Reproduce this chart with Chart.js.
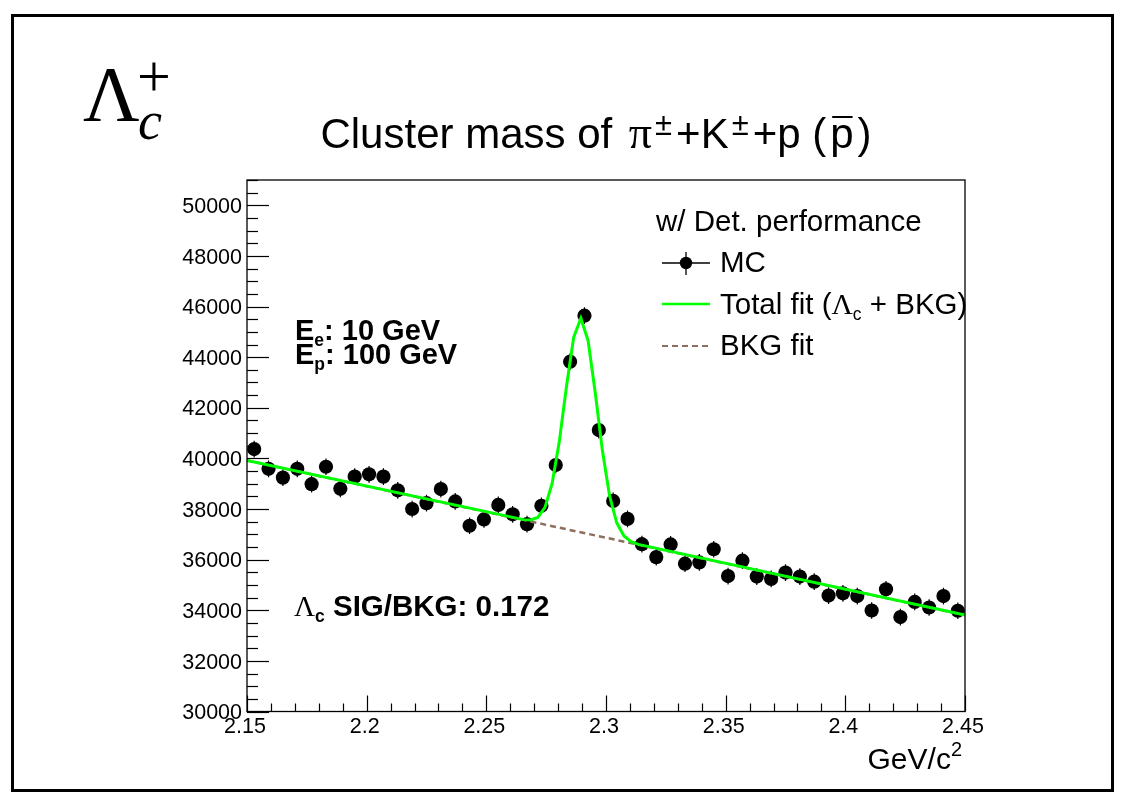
<!DOCTYPE html>
<html>
<head>
<meta charset="utf-8">
<title>Cluster mass of π±+K±+p</title>
<script src="https://cdn.jsdelivr.net/npm/chart.js@4.4.1/dist/chart.umd.min.js"></script>
<style>
  html, body { margin: 0; padding: 0; background: #fff; }
  #wrap { position: relative; width: 1121px; height: 799px; }
</style>
</head>
<body>
<div id="wrap"><canvas id="chart-mass" width="1121" height="799"></canvas></div>
<script>
// bin centres (GeV/c^2), 50 bins of 6 MeV
const massBins = [
  2.153, 2.159, 2.165, 2.171, 2.177, 2.183, 2.189, 2.195, 2.201, 2.207,
  2.213, 2.219, 2.225, 2.231, 2.237, 2.243, 2.249, 2.255, 2.261, 2.267,
  2.273, 2.279, 2.285, 2.291, 2.297, 2.303, 2.309, 2.315, 2.321, 2.327,
  2.333, 2.339, 2.345, 2.351, 2.357, 2.363, 2.369, 2.375, 2.381, 2.387,
  2.393, 2.399, 2.405, 2.411, 2.417, 2.423, 2.429, 2.435, 2.441, 2.447
];
const mcCounts = [
  40370, 39590, 39240, 39590, 38980, 39670, 38800, 39280, 39370, 39280,
  38740, 38000, 38230, 38790, 38300, 37340, 37590, 38160, 37790, 37400,
  38130, 39740, 43820, 45640, 41120, 38320, 37610, 36610, 36100, 36600,
  35840, 35890, 36410, 35350, 35960, 35330, 35240, 35490, 35330, 35130,
  34580, 34670, 34560, 33990, 34830, 33730, 34330, 34110, 34560, 33980
];
const binError = 330;

// fit curves (Lambda_c gaussian + linear background)
const totalFitX = [2.15, 2.2655, 2.2685, 2.2715, 2.2745, 2.2775, 2.2805, 2.2835, 2.2865, 2.2895,
  2.2925, 2.2955, 2.2985, 2.3015, 2.3045, 2.3075, 2.3105, 2.3135, 2.45];
const totalFitY = [39920, 37581, 37568, 37670, 38065, 39008, 40674, 42851, 44784, 45534,
  44662, 42607, 40308, 38520, 37454, 36937, 36712, 36603, 33810];
const bkgFitX = [2.15, 2.45];
const bkgFitY = [39920, 33810];

const xTicks = [2.15, 2.2, 2.25, 2.3, 2.35, 2.4, 2.45];
const xTickLabels = ['2.15', '2.2', '2.25', '2.3', '2.35', '2.4', '2.45'];
const yTicks = [30000, 32000, 34000, 36000, 38000, 40000, 42000, 44000, 46000, 48000, 50000];
const yTickLabels = ['30000', '32000', '34000', '36000', '38000', '40000', '42000', '44000', '46000', '48000', '50000'];

const SANS = '"Liberation Sans", Arial, Helvetica, sans-serif';
const SERIF = '"Liberation Serif", "Times New Roman", serif';
const GREEN = '#00ff00';
const BROWN = '#8d6f5f';

function zip(xs, ys) { return xs.map((x, i) => ({ x: x, y: ys[i] })); }

// draws a run of text pieces (font / vertical offset / overline / extra gap) starting at x
function drawRuns(ctx, x, y, runs, align) {
  let total = 0;
  runs.forEach(r => { ctx.font = r.font; r.w = ctx.measureText(r.t).width + (r.gap || 0); total += r.w; });
  let cx = align === 'center' ? x - total / 2 : (align === 'right' ? x - total : x);
  ctx.textAlign = 'left';
  ctx.textBaseline = 'alphabetic';
  runs.forEach(r => {
    ctx.font = r.font;
    ctx.fillText(r.t, cx, y + (r.dy || 0));
    if (r.bar) {
      ctx.beginPath();
      ctx.lineWidth = 2;
      ctx.moveTo(cx + 2, y - r.bar);
      ctx.lineTo(cx + r.w - (r.gap || 0) - 1, y - r.bar);
      ctx.stroke();
    }
    cx += r.w;
  });
}

const errorBars = {
  id: 'errorBars',
  beforeDatasetsDraw(chart) {
    const ctx = chart.ctx, xs = chart.scales.x, ys = chart.scales.y, a = chart.chartArea;
    ctx.save();
    ctx.beginPath();
    ctx.rect(a.left, a.top, a.right - a.left, a.bottom - a.top);
    ctx.clip();
    ctx.strokeStyle = '#000';
    ctx.lineWidth = 1.2;
    massBins.forEach((m, i) => {
      const px = xs.getPixelForValue(m);
      ctx.beginPath();
      ctx.moveTo(px, ys.getPixelForValue(mcCounts[i] - binError));
      ctx.lineTo(px, ys.getPixelForValue(mcCounts[i] + binError));
      ctx.stroke();
    });
    ctx.restore();
  }
};

const frameAndText = {
  id: 'frameAndText',
  beforeDraw(chart) {
    const ctx = chart.ctx;
    ctx.save();
    ctx.fillStyle = '#fff';
    ctx.fillRect(0, 0, chart.width, chart.height);
    ctx.restore();
  },
  afterDraw(chart) {
    const ctx = chart.ctx, xs = chart.scales.x, ys = chart.scales.y, a = chart.chartArea;
    ctx.save();
    ctx.strokeStyle = '#000';
    ctx.fillStyle = '#000';

    // canvas border
    ctx.lineWidth = 3;
    ctx.strokeRect(12.5, 15.5, 1100, 775);

    // plot frame
    ctx.lineWidth = 1.3;
    ctx.strokeRect(a.left, a.top, a.right - a.left, a.bottom - a.top);

    // y ticks: major every 2000, minor every 500, drawn inwards
    ctx.lineWidth = 1.2;
    for (let v = 30000; v <= 51000; v += 500) {
      const py = Math.round(ys.getPixelForValue(v)) + 0.5;
      const len = v % 2000 === 0 ? 22 : 11;
      ctx.beginPath(); ctx.moveTo(a.left, py); ctx.lineTo(a.left + len, py); ctx.stroke();
    }
    // x ticks: major every 0.05, minor every 0.01
    for (let k = 0; k <= 30; k++) {
      const px = Math.round(xs.getPixelForValue(2.15 + k * 0.01)) + 0.5;
      const len = k % 5 === 0 ? 16 : 8;
      ctx.beginPath(); ctx.moveTo(px, a.bottom); ctx.lineTo(px, a.bottom - len); ctx.stroke();
    }

    // tick labels
    ctx.font = '21.5px ' + SANS;
    ctx.textBaseline = 'alphabetic';
    ctx.textAlign = 'right';
    yTicks.forEach((v, i) => ctx.fillText(yTickLabels[i], 242, ys.getPixelForValue(v) + 7.7));
    ctx.textAlign = 'center';
    xTicks.forEach((v, i) => ctx.fillText(xTickLabels[i], xs.getPixelForValue(v) - 2, 733));

    // axis title
    drawRuns(ctx, 962, 769, [
      { t: 'GeV/c', font: '30px ' + SANS },
      { t: '2', font: '20px ' + SANS, dy: -13 }
    ], 'right');

    // title
    drawRuns(ctx, 596, 148, [
      { t: 'Cluster mass of ', font: '42px ' + SANS, gap: 5 },
      { t: 'π', font: '46px ' + SERIF, gap: 3 },
      { t: '±', font: '31px ' + SANS, dy: -13, gap: 4 },
      { t: '+K', font: '42px ' + SANS, gap: 3 },
      { t: '±', font: '31px ' + SANS, dy: -13, gap: 4 },
      { t: '+p (', font: '42px ' + SANS, gap: 4 },
      { t: 'p', font: '42px ' + SANS, bar: 31, gap: 4 },
      { t: ')', font: '42px ' + SANS }
    ], 'center');

    // particle label in the corner
    drawRuns(ctx, 83, 120, [{ t: 'Λ', font: '78px ' + SERIF }], 'left');
    drawRuns(ctx, 138, 139, [{ t: 'c', font: 'italic 54px ' + SERIF }], 'left');
    drawRuns(ctx, 137, 96, [{ t: '+', font: '60px ' + SERIF }], 'left');

    // beam energies and signal/background ratio
    const B = 'bold 29px ' + SANS, Bs = 'bold 17.5px ' + SANS;
    drawRuns(ctx, 295, 339.5, [{ t: 'E', font: B }, { t: 'e', font: Bs, dy: 6 }, { t: ': 10 GeV', font: B }]);
    drawRuns(ctx, 295, 363.5, [{ t: 'E', font: B }, { t: 'p', font: Bs, dy: 6 }, { t: ': 100 GeV', font: B }]);
    drawRuns(ctx, 294, 616, [
      { t: 'Λ', font: '29px ' + SERIF },
      { t: 'c', font: Bs, dy: 6 },
      { t: ' SIG/BKG: 0.172', font: 'bold 29.5px ' + SANS }
    ]);

    // legend
    const L = '29.5px ' + SANS;
    drawRuns(ctx, 656, 230.5, [{ t: 'w/ Det. performance', font: L }]);
    ctx.lineWidth = 1.3;
    ctx.beginPath(); ctx.moveTo(662, 263); ctx.lineTo(710, 263); ctx.stroke();
    ctx.beginPath(); ctx.moveTo(686, 252); ctx.lineTo(686, 275); ctx.stroke();
    ctx.beginPath(); ctx.arc(686, 263, 6.2, 0, Math.PI * 2); ctx.fill();
    drawRuns(ctx, 720, 272, [{ t: 'MC', font: L }]);

    ctx.strokeStyle = GREEN; ctx.lineWidth = 2.5;
    ctx.beginPath(); ctx.moveTo(662, 304); ctx.lineTo(710, 304); ctx.stroke();
    drawRuns(ctx, 720, 313.5, [
      { t: 'Total fit (', font: L },
      { t: 'Λ', font: '29.5px ' + SERIF },
      { t: 'c', font: '17.5px ' + SANS, dy: 6 },
      { t: ' + BKG)', font: L }
    ]);

    ctx.strokeStyle = BROWN; ctx.lineWidth = 2;
    ctx.setLineDash([6, 4]);
    ctx.beginPath(); ctx.moveTo(662, 346); ctx.lineTo(710, 346); ctx.stroke();
    ctx.setLineDash([]);
    drawRuns(ctx, 720, 354.5, [{ t: 'BKG fit', font: L }]);

    ctx.restore();
  }
};

const massCtx = document.getElementById('chart-mass').getContext('2d');
const massChart = new Chart(massCtx, {
  type: 'scatter',
  data: {
    datasets: [
      { label: 'Total fit', type: 'line', data: zip(totalFitX, totalFitY), showLine: true,
        borderColor: GREEN, borderWidth: 3, pointRadius: 0, tension: 0, fill: false, order: 1 },
      { label: 'BKG fit', type: 'line', data: zip(bkgFitX, bkgFitY), showLine: true,
        borderColor: BROWN, borderWidth: 2.5, borderDash: [6, 4], pointRadius: 0, tension: 0, fill: false, order: 2 },
      { label: 'MC', data: zip(massBins, mcCounts), backgroundColor: '#000', borderColor: '#000',
        pointRadius: 7.1, pointBorderWidth: 0, order: 3 }
    ]
  },
  options: {
    responsive: false,
    animation: false,
    events: [],
    layout: { padding: { left: 247, top: 180, right: 156, bottom: 87.5 } },
    scales: {
      x: { type: 'linear', min: 2.15, max: 2.45, display: false },
      y: { type: 'linear', min: 30000, max: 51000, display: false }
    },
    plugins: { legend: { display: false }, tooltip: { enabled: false } }
  },
  plugins: [errorBars, frameAndText]
});
</script>
</body>
</html>
